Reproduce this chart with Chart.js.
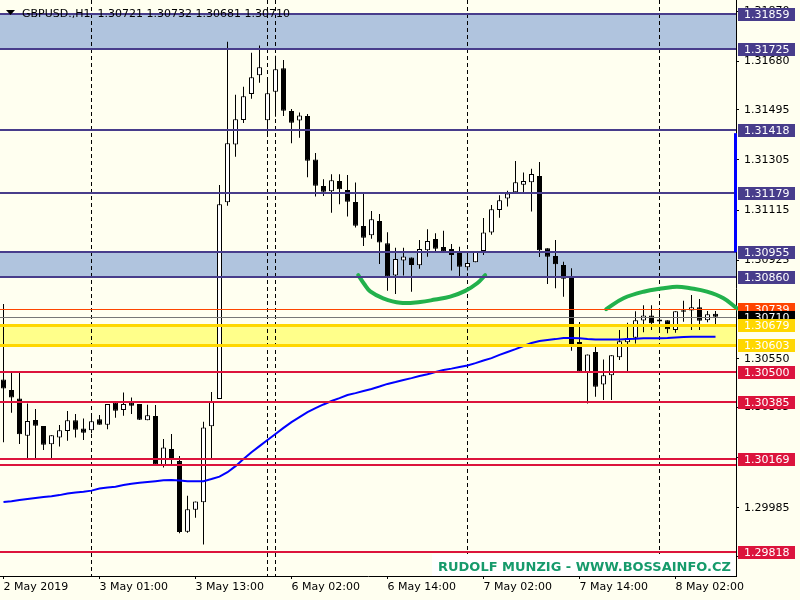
<!DOCTYPE html>
<html>
<head>
<meta charset="utf-8">
<script src="https://cdn.jsdelivr.net/npm/chart.js@4.4.1/dist/chart.umd.min.js"></script>
<style>
  html, body { margin: 0; padding: 0; background: #fffff0; }
</style>
</head>
<body>
<canvas id="chart" width="800" height="600"></canvas>
<script>
// GBPUSD H1, 2 May 13:00 .. 8 May 07:00
const opens = [
  1.30472, 1.30432, 1.30400, 1.30258, 1.30318, 1.30295, 1.30226, 1.30252, 1.30276, 1.30317,
  1.30286, 1.30279, 1.30321, 1.30300, 1.30384, 1.30356, 1.30384, 1.30379, 1.30317, 1.30333,
  1.30144, 1.30208, 1.30162, 1.29894, 1.29977, 1.30006, 1.30294, 1.30398, 1.31144, 1.31364,
  1.31457, 1.31555, 1.31626, 1.31456, 1.31564, 1.31653, 1.31491, 1.31455, 1.31472, 1.31307,
  1.31206, 1.31186, 1.31225, 1.31191, 1.31145, 1.31054, 1.31019, 1.31073, 1.30989, 1.30866,
  1.30923, 1.30935, 1.30905, 1.30962, 1.31005, 1.30975, 1.30967, 1.30957, 1.30898, 1.30917,
  1.30959, 1.31030, 1.31115, 1.31159, 1.31182, 1.31211, 1.31220, 1.31244, 1.30970, 1.30940,
  1.30906, 1.30864, 1.30614, 1.30497, 1.30576, 1.30453, 1.30488, 1.30556, 1.30613, 1.30630,
  1.30696, 1.30715, 1.30699, 1.30697, 1.30660, 1.30735, 1.30734, 1.30746, 1.30697, 1.30721
];
const highs = [
  1.30758, 1.30497, 1.30497, 1.30381, 1.30360, 1.30295, 1.30260, 1.30299, 1.30352, 1.30341,
  1.30324, 1.30330, 1.30337, 1.30379, 1.30384, 1.30422, 1.30403, 1.30379, 1.30376, 1.30375,
  1.30246, 1.30265, 1.30181, 1.30031, 1.30009, 1.30311, 1.30424, 1.31210, 1.31754, 1.31552,
  1.31583, 1.31712, 1.31739, 1.31606, 1.31700, 1.31684, 1.31498, 1.31485, 1.31479, 1.31331,
  1.31232, 1.31251, 1.31251, 1.31248, 1.31219, 1.31178, 1.31111, 1.31100, 1.31031, 1.30972,
  1.30972, 1.30935, 1.31001, 1.31042, 1.31027, 1.31036, 1.30986, 1.30976, 1.30948, 1.30958,
  1.31085, 1.31134, 1.31171, 1.31188, 1.31301, 1.31257, 1.31272, 1.31297, 1.30970, 1.31001,
  1.30919, 1.30894, 1.30690, 1.30567, 1.30596, 1.30548, 1.30564, 1.30660, 1.30687, 1.30731,
  1.30754, 1.30754, 1.30742, 1.30697, 1.30731, 1.30771, 1.30792, 1.30777, 1.30732, 1.30732
];
const lows = [
  1.30234, 1.30346, 1.30227, 1.30166, 1.30166, 1.30204, 1.30169, 1.30217, 1.30239, 1.30252,
  1.30242, 1.30268, 1.30300, 1.30283, 1.30327, 1.30334, 1.30341, 1.30318, 1.30317, 1.30148,
  1.30138, 1.30144, 1.29888, 1.29890, 1.29947, 1.29846, 1.30167, 1.30398, 1.31131, 1.31317,
  1.31445, 1.31537, 1.31598, 1.31393, 1.31469, 1.31472, 1.31368, 1.31389, 1.31239, 1.31166,
  1.31168, 1.31105, 1.31137, 1.31090, 1.31049, 1.30978, 1.31006, 1.30910, 1.30809, 1.30796,
  1.30866, 1.30805, 1.30892, 1.30938, 1.30953, 1.30957, 1.30885, 1.30858, 1.30885, 1.30917,
  1.30944, 1.31021, 1.31086, 1.31128, 1.31182, 1.31178, 1.31109, 1.30937, 1.30834, 1.30818,
  1.30786, 1.30581, 1.30501, 1.30381, 1.30406, 1.30394, 1.30394, 1.30546, 1.30497, 1.30608,
  1.30651, 1.30660, 1.30660, 1.30647, 1.30649, 1.30691, 1.30660, 1.30660, 1.30689, 1.30681
];
const closes = [
  1.30438, 1.30403, 1.30264, 1.30314, 1.30296, 1.30224, 1.30260, 1.30279, 1.30317, 1.30281,
  1.30270, 1.30313, 1.30300, 1.30379, 1.30353, 1.30379, 1.30372, 1.30319, 1.30336, 1.30148,
  1.30214, 1.30167, 1.29893, 1.29979, 1.30009, 1.30290, 1.30389, 1.31137, 1.31368, 1.31459,
  1.31547, 1.31619, 1.31657, 1.31558, 1.31649, 1.31492, 1.31446, 1.31474, 1.31302, 1.31207,
  1.31184, 1.31228, 1.31194, 1.31146, 1.31055, 1.31010, 1.31080, 1.30992, 1.30862, 1.30929,
  1.30939, 1.30906, 1.30967, 1.30997, 1.30968, 1.30957, 1.30944, 1.30900, 1.30914, 1.30958,
  1.31030, 1.31118, 1.31152, 1.31178, 1.31220, 1.31225, 1.31252, 1.30962, 1.30938, 1.30909,
  1.30854, 1.30606, 1.30501, 1.30567, 1.30444, 1.30488, 1.30564, 1.30617, 1.30628, 1.30697,
  1.30715, 1.30685, 1.30692, 1.30662, 1.30731, 1.30729, 1.30746, 1.30695, 1.30719, 1.30710
];
// moving average (blue)
const maValues = [
  1.30007, 1.30010, 1.30014, 1.30018, 1.30022, 1.30026, 1.30029, 1.30033, 1.30039, 1.30043,
  1.30046, 1.30050, 1.30058, 1.30062, 1.30065, 1.30071, 1.30076, 1.30080, 1.30083, 1.30086,
  1.30089, 1.30090, 1.30088, 1.30086, 1.30086, 1.30086, 1.30094, 1.30103, 1.30120, 1.30143,
  1.30170, 1.30196, 1.30219, 1.30242, 1.30265, 1.30288, 1.30310, 1.30329, 1.30348, 1.30363,
  1.30377, 1.30390, 1.30401, 1.30413, 1.30420, 1.30428, 1.30436, 1.30445, 1.30455, 1.30462,
  1.30470, 1.30477, 1.30485, 1.30492, 1.30500, 1.30508, 1.30513, 1.30519, 1.30525, 1.30534,
  1.30544, 1.30553, 1.30565, 1.30576, 1.30587, 1.30599, 1.30610, 1.30618, 1.30622, 1.30625,
  1.30629, 1.30629, 1.30628, 1.30625, 1.30624, 1.30624, 1.30624, 1.30624, 1.30625, 1.30626,
  1.30628, 1.30628, 1.30628, 1.30629, 1.30631, 1.30633, 1.30634, 1.30634, 1.30634, 1.30634
];

const xTickIndex = [0, 12, 24, 36, 48, 60, 72, 84];
const xTickText = ["2 May 2019", "3 May 01:00", "3 May 13:00", "6 May 02:00",
                   "6 May 14:00", "7 May 02:00", "7 May 14:00", "8 May 02:00"];
const yTicks = [1.31870, 1.31680, 1.31495, 1.31305, 1.31115, 1.30925, 1.30740,
                1.30550, 1.30365, 1.30175, 1.29985, 1.29800];
const daySeparators = [11, 33, 34, 58, 82];

// drawn objects
const blueZones = [[1.31725, 1.31859], [1.30860, 1.30955]];
const blueLevels = [1.31418, 1.31179];
const yellowZone = [1.30603, 1.30679];
const redLevels = [1.30500, 1.30385, 1.30169, 1.30149, 1.29818];
const redTagLevels = [1.30500, 1.30385, 1.30169, 1.29818];
const orangeLevel = 1.30739;
const bidLevel = 1.30710;
const blueBarRange = [1.30955, 1.31418];
const arcLeft = [[44.34, 1.30868], [45.09, 1.30834], [45.84, 1.30806], [47.46, 1.30780],
                 [49.59, 1.30763], [52.09, 1.30766], [53.96, 1.30775], [55.84, 1.30786],
                 [57.71, 1.30808], [59.21, 1.30837], [60.21, 1.30868]];
const arcRight = [[75.34, 1.30739], [77.5, 1.30780], [80.0, 1.30805], [82.5, 1.30818],
                  [84.18, 1.30824], [85.84, 1.30818], [87.93, 1.30805], [90.0, 1.30780],
                  [91.68, 1.30742]];

const headerText = "GBPUSD.,H1  1.30721 1.30732 1.30681 1.30710";
const watermark = "RUDOLF MUNZIG - WWW.BOSSAINFO.CZ";

Chart.defaults.font.family = "DejaVu Sans";
Chart.defaults.font.size = 11;
Chart.defaults.color = "#000";

const idx = opens.map((_, i) => i);

const mt4Overlay = {
  id: "mt4Overlay",
  beforeDraw(chart) {
    const ctx = chart.ctx;
    ctx.save();
    ctx.fillStyle = "#fffff0";
    ctx.fillRect(0, 0, chart.width, chart.height);
    ctx.restore();
  },
  beforeDatasetsDraw(chart) {
    const { ctx, chartArea: a, scales: { x, y } } = chart;
    ctx.save();
    ctx.fillStyle = "#b0c4de";
    blueZones.forEach(([lo, hi]) => {
      const t = y.getPixelForValue(hi), b = y.getPixelForValue(lo);
      ctx.fillRect(a.left, t, a.right - a.left, b - t);
    });
    ctx.fillStyle = "#ffff8a";
    const yt = y.getPixelForValue(yellowZone[1]), yb = y.getPixelForValue(yellowZone[0]);
    ctx.fillRect(a.left, yt, a.right - a.left, yb - yt);

    ctx.strokeStyle = "#000";
    ctx.lineWidth = 1;
    ctx.setLineDash([4, 3]);
    daySeparators.forEach(i => {
      const px = Math.floor(x.getPixelForValue(i)) + 0.5;
      ctx.beginPath();
      ctx.moveTo(px, a.top);
      ctx.lineTo(px, a.bottom);
      ctx.stroke();
    });
    ctx.restore();
  },
  afterDatasetsDraw(chart) {
    const { ctx, chartArea: a, scales: { y } } = chart;
    const hline = (val, color, w) => {
      let py = y.getPixelForValue(val);
      py = w % 2 ? Math.round(py) + 0.5 : Math.round(py);
      ctx.strokeStyle = color;
      ctx.lineWidth = w;
      ctx.beginPath();
      ctx.moveTo(a.left, py);
      ctx.lineTo(a.right, py);
      ctx.stroke();
    };
    ctx.save();
    blueZones.forEach(([lo, hi]) => { hline(hi, "#483d8b", 2); hline(lo, "#483d8b", 2); });
    blueLevels.forEach(v => hline(v, "#483d8b", 2));
    hline(orangeLevel, "#ff4500", 1);
    hline(bidLevel, "#777777", 1);
    hline(yellowZone[1], "#ffd700", 3);
    hline(yellowZone[0], "#ffd700", 3);
    redLevels.forEach(v => hline(v, "#dc143c", 2));
    ctx.restore();
  },
  afterDraw(chart) {
    const { ctx, chartArea: a, scales: { y } } = chart;
    ctx.save();
    // blue bar on the price scale
    const bt = y.getPixelForValue(blueBarRange[1]) + 3, bb = y.getPixelForValue(blueBarRange[0]);
    ctx.fillStyle = "#0000ff";
    ctx.fillRect(a.right - 2, bt, 3, bb - bt);

    ctx.font = "11px 'DejaVu Sans'";
    ctx.textBaseline = "middle";
    ctx.textAlign = "left";
    const tag = (val, bg, fg) => {
      const py = Math.round(y.getPixelForValue(val));
      ctx.fillStyle = bg;
      ctx.fillRect(738, py - 6, 57, 13);
      ctx.fillStyle = fg;
      ctx.fillText(val.toFixed(5), 744, py + 1);
    };
    blueZones.forEach(([lo, hi]) => { tag(hi, "#483d8b", "#fff"); tag(lo, "#483d8b", "#fff"); });
    blueLevels.forEach(v => tag(v, "#483d8b", "#fff"));
    redTagLevels.forEach(v => tag(v, "#dc143c", "#fff"));
    tag(orangeLevel, "#ff4500", "#fff");
    tag(bidLevel, "#000", "#fff");
    tag(yellowZone[1], "#ffd700", "#fff");
    tag(yellowZone[0], "#ffd700", "#fff");

    // header
    ctx.fillStyle = "#000";
    ctx.beginPath();
    ctx.moveTo(6, 10); ctx.lineTo(15, 10); ctx.lineTo(10.5, 15); ctx.closePath();
    ctx.fill();
    ctx.textBaseline = "alphabetic";
    ctx.fillText(headerText, 22, 17);

    // watermark
    ctx.font = "bold 13px 'DejaVu Sans'";
    const w = ctx.measureText(watermark).width;
    const sx = Math.min(1, 293 / w);
    ctx.fillStyle = "#ffffff";
    ctx.fillRect(731 - w * sx - 6, 554, w * sx + 10, a.bottom - 554);
    ctx.translate(731 - w * sx, 571);
    ctx.scale(sx, 1);
    ctx.fillStyle = "#169a6b";
    ctx.fillText(watermark, 0, 0);
    ctx.restore();
  }
};

new Chart(document.getElementById("chart"), {
  type: "bar",
  data: {
    datasets: [
      {
        type: "line",
        data: arcLeft.map(([i, v]) => ({ x: i, y: v })),
        borderColor: "#22b14c",
        borderWidth: 4,
        borderCapStyle: "round",
        tension: 0.4,
        pointRadius: 0,
        order: 0
      },
      {
        type: "line",
        data: arcRight.map(([i, v]) => ({ x: i, y: v })),
        borderColor: "#22b14c",
        borderWidth: 4,
        borderCapStyle: "round",
        tension: 0.4,
        pointRadius: 0,
        clip: false,
        order: 0
      },
      {
        type: "line",
        data: idx.map(i => ({ x: i, y: maValues[i] })),
        borderColor: "#0000ff",
        borderWidth: 2,
        tension: 0,
        pointRadius: 0,
        order: 1
      },
      {
        data: idx.map(i => ({ x: i, y: [opens[i], closes[i]] })),
        backgroundColor: idx.map(i => closes[i] >= opens[i] ? "#ffffff" : "#000000"),
        borderColor: "#000",
        borderWidth: 1,
        borderSkipped: false,
        inflateAmount: 0,
        barThickness: 5,
        grouped: false,
        order: 2
      },
      {
        data: idx.map(i => ({ x: i, y: [lows[i], highs[i]] })),
        backgroundColor: "#000",
        borderWidth: 0,
        inflateAmount: 0,
        barThickness: 1,
        grouped: false,
        order: 3
      }
    ]
  },
  options: {
    responsive: false,
    animation: false,
    events: [],
    layout: { padding: 0 },
    plugins: { legend: { display: false }, tooltip: { enabled: false } },
    scales: {
      x: {
        type: "linear",
        min: -0.4375,
        max: 91.5625,
        offset: false,
        afterBuildTicks: s => { s.ticks = xTickIndex.map(v => ({ value: v })); },
        afterFit: s => { s.height = 24; s.paddingLeft = 0; s.paddingRight = 0; },
        grid: { drawOnChartArea: false, offset: false, tickLength: 3, color: "#000" },
        border: { color: "#000", width: 1 },
        ticks: {
          align: "start",
          maxRotation: 0,
          autoSkip: false,
          padding: 2,
          callback: v => xTickText[xTickIndex.indexOf(v)]
        }
      },
      y: {
        position: "right",
        min: 1.29726,
        max: 1.31912,
        beginAtZero: false,
        afterBuildTicks: s => { s.ticks = yTicks.map(v => ({ value: v })); },
        afterFit: s => { s.width = 64; s.paddingTop = 0; s.paddingBottom = 0; },
        grid: { drawOnChartArea: false, tickLength: 3, color: "#000" },
        border: { color: "#000", width: 1 },
        ticks: { padding: 5, callback: v => v.toFixed(5) }
      }
    }
  },
  plugins: [mt4Overlay]
});
</script>
</body>
</html>
